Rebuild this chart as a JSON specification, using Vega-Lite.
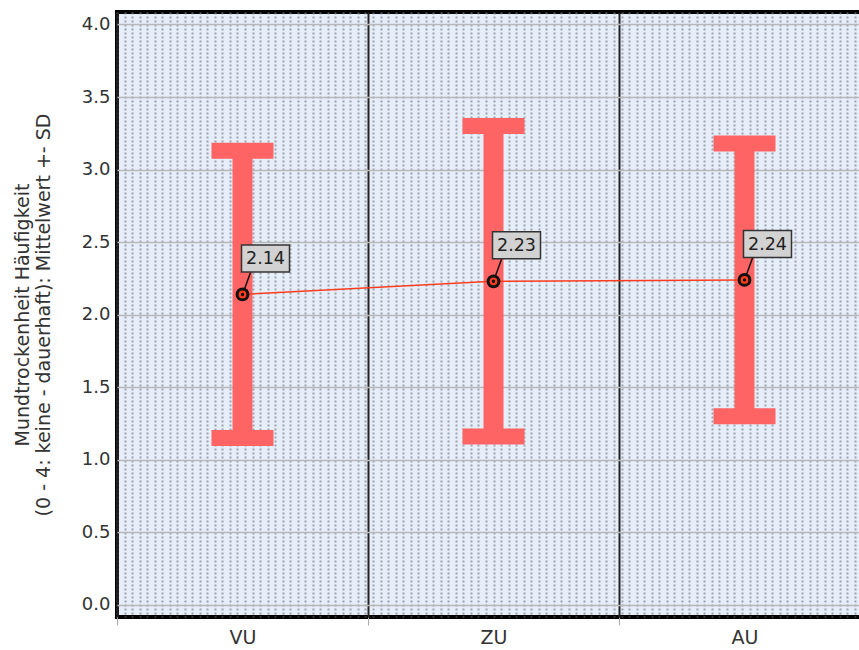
{
  "$schema": "https://vega.github.io/schema/vega-lite/v6.json",
  "width": 753,
  "height": 605,
  "autosize": "none",
  "padding": {"left": 117, "top": 12, "right": 0, "bottom": 33},
  "config": {
    "font": "DejaVu Sans",
    "view": {"fill": "#e6eff9", "stroke": "#000000", "strokeWidth": 4}
  },
  "data": {
    "values": [
      {"cat": "VU", "mean": 2.14, "lo": 1.15, "hi": 3.13, "label": "2.14"},
      {"cat": "ZU", "mean": 2.23, "lo": 1.16, "hi": 3.30, "label": "2.23"},
      {"cat": "AU", "mean": 2.24, "lo": 1.30, "hi": 3.18, "label": "2.24"}
    ]
  },
  "layer": [
    {
      "mark": {"type": "rule", "opacity": 0},
      "encoding": {
        "x": {
          "datum": 0,
          "type": "quantitative",
          "scale": {"domain": [0, 100], "nice": false},
          "axis": {
            "orient": "top",
            "grid": true,
            "gridColor": "#7f8590",
            "gridDash": [2, 2],
            "gridWidth": 2,
            "gridOpacity": 0.7,
            "tickCount": 100,
            "ticks": false,
            "labels": false,
            "domain": false,
            "title": null
          }
        }
      }
    },
    {
      "encoding": {
        "x": {
          "field": "cat",
          "type": "nominal",
          "sort": ["VU", "ZU", "AU"],
          "scale": {"type": "band", "paddingInner": 0, "paddingOuter": 0},
          "axis": {
            "title": null,
            "tickBand": "extent",
            "grid": true,
            "gridColor": "#222222",
            "gridWidth": 2,
            "domain": false,
            "tickColor": "#aaaaaa",
            "tickSize": 8,
            "labelFontSize": 19,
            "labelColor": "#333333",
            "labelPadding": 3,
            "labelAngle": 0
          }
        }
      },
      "layer": [
        {
          "mark": {"type": "rule", "color": "#ff6464", "strokeWidth": 20},
          "encoding": {
            "y": {
              "field": "lo",
              "type": "quantitative",
              "scale": {"domain": [-0.083, 4.086], "nice": false, "zero": false},
              "axis": {
                "values": [0, 0.5, 1, 1.5, 2, 2.5, 3, 3.5, 4],
                "format": ".1f",
                "grid": true,
                "gridColor": "#b8b8b8",
                "gridWidth": 1.5,
                "ticks": false,
                "domain": false,
                "labelFontSize": 18,
                "labelColor": "#333333",
                "labelPadding": 7,
                "title": ["Mundtrockenheit Häufigkeit", "(0 - 4: keine - dauerhaft): Mittelwert +- SD"],
                "titleFontSize": 19,
                "titleFontWeight": "normal",
                "titleColor": "#333333",
                "titleLineHeight": 21,
                "titlePadding": 28
              }
            },
            "y2": {"field": "hi"}
          }
        },
        {
          "mark": {"type": "tick", "color": "#ff6464", "size": 62, "thickness": 16, "opacity": 1},
          "encoding": {"y": {"field": "lo", "type": "quantitative"}}
        },
        {
          "mark": {"type": "tick", "color": "#ff6464", "size": 62, "thickness": 16, "opacity": 1},
          "encoding": {"y": {"field": "hi", "type": "quantitative"}}
        },
        {
          "mark": {"type": "line", "color": "#ff3c1e", "strokeWidth": 1.5},
          "encoding": {"y": {"field": "mean", "type": "quantitative"}}
        },
        {
          "mark": {"type": "point", "shape": "M0,0L8,-22", "size": 4, "filled": false, "stroke": "#111111", "strokeWidth": 1.5, "opacity": 1},
          "encoding": {"y": {"field": "mean", "type": "quantitative"}}
        },
        {
          "mark": {"type": "point", "shape": "circle", "size": 190, "filled": true, "color": "#111111", "opacity": 1},
          "encoding": {"y": {"field": "mean", "type": "quantitative"}}
        },
        {
          "mark": {"type": "point", "shape": "circle", "size": 60, "filled": true, "color": "#ff3c1e", "opacity": 1},
          "encoding": {"y": {"field": "mean", "type": "quantitative"}}
        },
        {
          "mark": {"type": "point", "shape": "circle", "size": 12, "filled": true, "color": "#111111", "opacity": 1},
          "encoding": {"y": {"field": "mean", "type": "quantitative"}}
        },
        {
          "mark": {"type": "point", "shape": "M-24,-13.5H24V13.5H-24Z", "size": 4, "filled": true, "fill": "#d2d2d2", "stroke": "#333333", "strokeWidth": 1.5, "opacity": 1, "xOffset": 23, "yOffset": -36},
          "encoding": {"y": {"field": "mean", "type": "quantitative"}}
        },
        {
          "mark": {"type": "text", "fontSize": 17.5, "color": "#222222", "dx": 23, "dy": -35, "align": "center", "baseline": "middle"},
          "encoding": {
            "y": {"field": "mean", "type": "quantitative"},
            "text": {"field": "label"}
          }
        }
      ]
    }
  ],
  "resolve": {"scale": {"x": "independent"}, "axis": {"x": "independent"}}
}
